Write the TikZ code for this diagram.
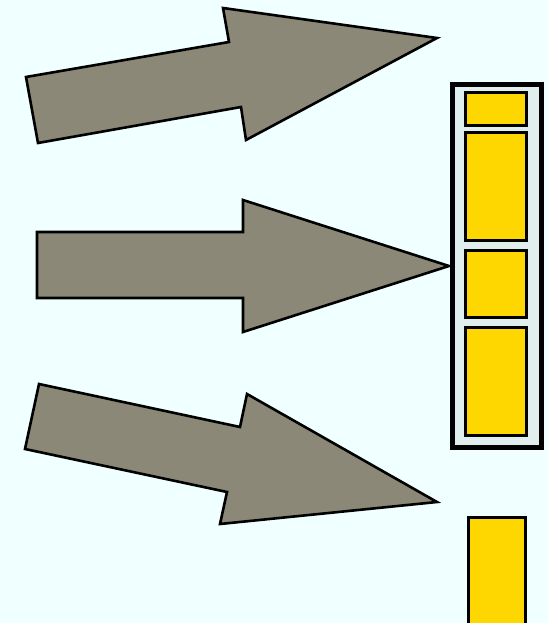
\documentclass[tikz,border=0pt]{standalone}
\usepackage{tikz}
\usepackage{xcolor}
\definecolor{bgazure}{HTML}{F0FFFF}
\definecolor{arrowgray}{HTML}{8B8878}
\definecolor{boxgray}{HTML}{E0EEEE}
\definecolor{cellgold}{HTML}{FFD700}

\begin{document}
\begin{tikzpicture}[x=1pt,y=-1pt,
    bigarrow/.style={draw=black,line width=2.6pt,fill=arrowgray,line join=miter},
    stackbox/.style={draw=black,line width=5.5pt,fill=boxgray},
    cell/.style={draw=black,line width=3pt,fill=cellgold}]
  % ---------------- background ----------------
  \fill[bgazure] (0,0) rectangle (548,623);
  \useasboundingbox (0,0) rectangle (548,623);

  % ---------------- three arrows ----------------
  \draw[bigarrow] (26,77) -- (229,42) -- (223,8) -- (437,38)
     -- (246,140) -- (241,107) -- (38,143) -- cycle;
  \draw[bigarrow] (37,232) -- (243,232) -- (243,200) -- (449,266)
     -- (243,332) -- (243,298) -- (37,298) -- cycle;
  \draw[bigarrow] (39,384) -- (240,427) -- (247,394) -- (437,502)
     -- (220,524) -- (227,492) -- (25,449) -- cycle;

  % ---------------- stack ----------------
  \draw[stackbox] (452.5,84.5) rectangle (541.5,447.5);
  \foreach \top/\bot in {93/125, 132/240, 250/317, 327/435}{
    \draw[cell] (465,\top) rectangle (526,\bot);
  }

  % ---------------- loose cell below ----------------
  \draw[cell] (468,517) rectangle (525,630);
\end{tikzpicture}
\end{document}
